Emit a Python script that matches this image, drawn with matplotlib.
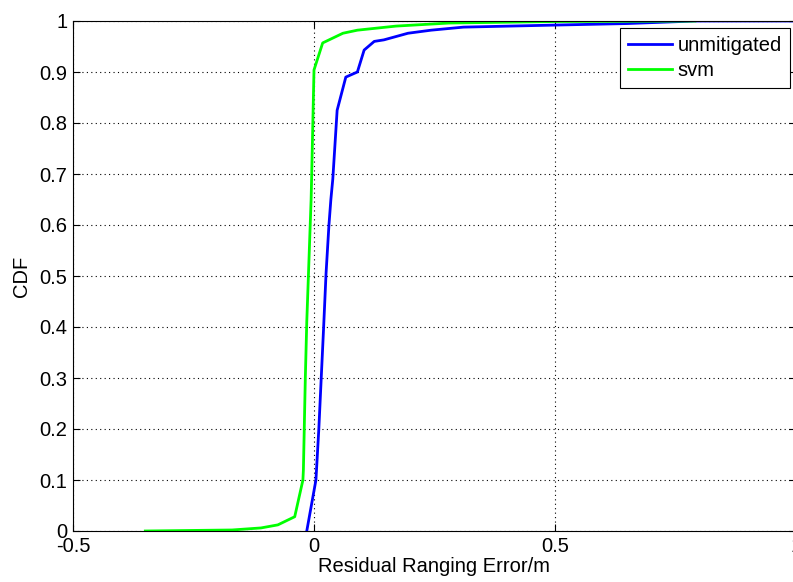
import matplotlib
matplotlib.use("Agg")
import matplotlib.pyplot as plt

plt.rcParams["font.family"] = ["Liberation Sans", "DejaVu Sans"]

# unmitigated CDF (error in m, cumulative probability)
err_unmit = [-0.015, 0.004, 0.01, 0.015, 0.02, 0.025, 0.031, 0.035, 0.039, 0.048,
             0.066, 0.09, 0.104, 0.125, 0.145, 0.195, 0.243, 0.31, 0.5, 0.65, 0.79, 1.0]
cdf_unmit = [0.0, 0.1, 0.2, 0.3, 0.4, 0.505, 0.6, 0.65, 0.69, 0.825,
             0.89, 0.90, 0.943, 0.96, 0.963, 0.976, 0.982, 0.988, 0.992, 0.995, 1.0, 1.0]

# svm CDF
err_svm = [-0.35, -0.17, -0.11, -0.075, -0.04, -0.023, -0.022, -0.018, -0.015,
           -0.006, -0.005, 0.0, 0.018, 0.06, 0.09, 0.17, 0.28, 0.5, 0.79]
cdf_svm = [0.0, 0.002, 0.006, 0.012, 0.028, 0.1, 0.12, 0.3, 0.41,
           0.65, 0.69, 0.904, 0.957, 0.976, 0.982, 0.99, 0.996, 0.999, 1.0]

fig = plt.figure(figsize=(7.93, 5.82), dpi=100)
ax = fig.add_axes([73 / 793, 1 - 531 / 582, (796 - 73) / 793, (531 - 21) / 582])

ax.plot(err_unmit, cdf_unmit, color="#0000ff", lw=2, label="unmitigated")
ax.plot(err_svm, cdf_svm, color="#00ff00", lw=2, label="svm")

ax.set_xlim(-0.5, 1.0)
ax.set_ylim(0, 1)
ax.set_xticks([-0.5, 0, 0.5, 1])
ax.set_xticklabels(["-0.5", "0", "0.5", "1"])
ax.set_yticks([i / 10 for i in range(11)])
ax.set_yticklabels(["0", "0.1", "0.2", "0.3", "0.4", "0.5", "0.6", "0.7", "0.8", "0.9", "1"])
ax.tick_params(direction="in", top=True, right=True, labelsize=14.5, length=5, pad=4)
ax.grid(True, color="black", linestyle=(0, (1, 3)), linewidth=0.8)

ax.set_xlabel("Residual Ranging Error/m", fontsize=14.5, labelpad=1)
ax.set_ylabel("CDF", fontsize=14.5, labelpad=6)

leg = ax.legend(loc="upper right", bbox_to_anchor=(0.992, 0.986), fontsize=14.5,
                fancybox=False, framealpha=1, borderaxespad=0, handlelength=2.2,
                handletextpad=0.3, labelspacing=0.3, borderpad=0.4)
leg.get_frame().set_edgecolor("black")
leg.get_frame().set_linewidth(0.8)

fig.savefig("out.png", dpi=100)
